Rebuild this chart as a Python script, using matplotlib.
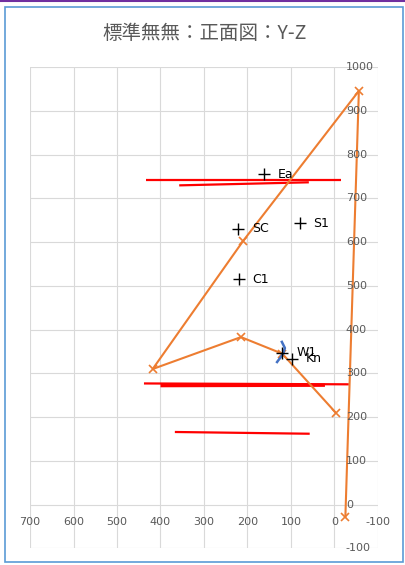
import matplotlib
matplotlib.use('Agg')
import matplotlib.pyplot as plt
from matplotlib.patches import Rectangle
from matplotlib.lines import Line2D

plt.rcParams['font.family'] = ['Noto Sans CJK JP', 'DejaVu Sans']

# orange path (x markers)
path_x = [-25, -56, 210, 418, 215, 120, -3]
path_y = [-28, 946, 603, 310, 383, 345, 210]

# labelled points (+ markers)
pt_names = ['Ea', 'SC', 'S1', 'C1', 'W1', 'Kn']
pt_x = [162, 222, 80, 220, 120, 97]
pt_y = [755, 631, 643, 515, 347, 333]

# small blue curve near W1
blue_x = [121, 114, 118, 132]
blue_y = [372, 358, 345, 326]

# red lines: (x0, x1, y0, y1, width)
red_x0 = [434, 357, 438, 400, 367]
red_x1 = [-16, 59, -33, 22, 57]
red_y0 = [742, 730, 277, 272, 166]
red_y1 = [742, 737, 275, 273, 162]
red_w = [1.6, 1.6, 1.6, 2.4, 1.6]

xticks = list(range(700, -101, -100))
yticks = list(range(-100, 1001, 100))

fig = plt.figure(figsize=(4.06, 5.65), dpi=100)
fig.patches.append(Line2D([0, 1], [0.998, 0.998], transform=fig.transFigure,
                          color='#7030A0', lw=1.5))
fig.patches.append(Rectangle((5 / 406, 3 / 565), 398 / 406, 555 / 565,
                             transform=fig.transFigure, fill=False,
                             edgecolor='#5B9BD5', lw=1.2))
fig.text(0.505, 0.94, '標準無無：正面図：Y-Z', ha='center', va='center',
         fontsize=14, color='#595959')

ax = fig.add_axes([30 / 406, 1 - 548.3 / 565, 348 / 406, 481 / 565])
ax.set_xlim(700, -100)
ax.set_ylim(-100, 1000)
ax.set_xticks(xticks)
ax.set_yticks(yticks)
ax.grid(True, color='#d9d9d9', lw=0.8)
ax.tick_params(length=0, labelbottom=False, labelleft=False)
for s in ax.spines.values():
    s.set_visible(False)

for v in xticks:
    ax.text(v, -40, str(v), ha='center', va='center', fontsize=8,
            color='#595959', family='DejaVu Sans')
for v in yticks:
    ax.text(-26, v, str(v), ha='left', va='center', fontsize=8,
            color='#595959', family='DejaVu Sans')

for i in range(len(red_x0)):
    ax.plot([red_x0[i], red_x1[i]], [red_y0[i], red_y1[i]], color='#FF0000',
            lw=red_w[i], solid_capstyle='butt')

ax.plot(path_x, path_y, color='#ED7D31', lw=1.5, marker='x', ms=6, mew=1.2)
ax.plot(blue_x, blue_y, color='#4472C4', lw=1.8)

ax.plot(pt_x, pt_y, ls='none', marker='+', ms=8, mew=1, color='black')
for n, x, y in zip(pt_names, pt_x, pt_y):
    ax.annotate(n, (x, y), xytext=(10, 0), textcoords='offset points',
                va='center', ha='left', fontsize=9, color='black',
                family='DejaVu Sans')

fig.savefig('out.png', dpi=100)
